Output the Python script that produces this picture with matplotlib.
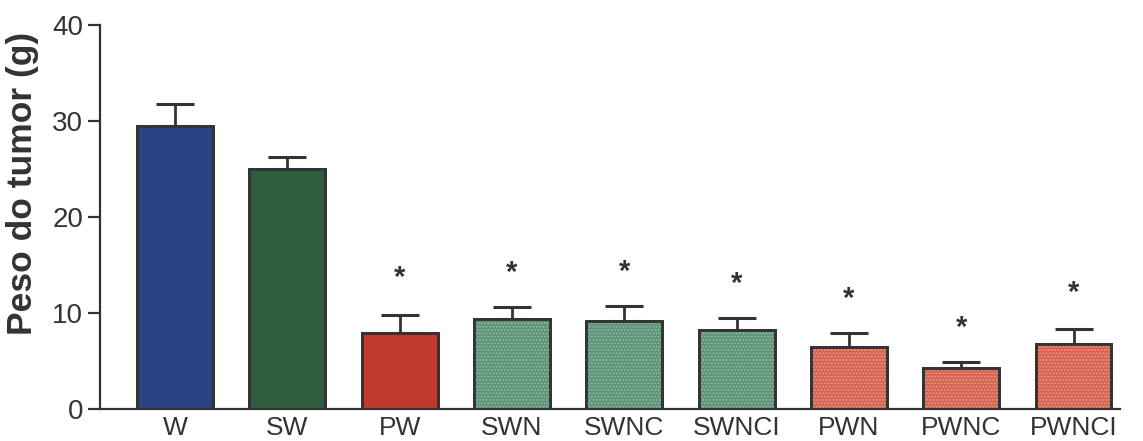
import matplotlib
matplotlib.use('Agg')
from matplotlib import pyplot as plt
import numpy as np

plt.rcParams['font.family'] = ['Liberation Sans', 'DejaVu Sans']

groups = ['W', 'SW', 'PW', 'SWN', 'SWNC', 'SWNCI', 'PWN', 'PWNC', 'PWNCI']
means = [29.5, 25.0, 7.9, 9.4, 9.2, 8.2, 6.5, 4.3, 6.8]
errors = [2.3, 1.25, 1.9, 1.2, 1.5, 1.3, 1.4, 0.6, 1.5]
star_y = [None, None, 13.6, 14.2, 14.3, 13.0, 11.5, 8.4, 12.1]
colors = ['#2a4387', '#2e5e3e', '#c0392e', '#5a9275', '#5a9275',
          '#5a9275', '#d8604f', '#d8604f', '#d8604f']
stippled = [False, False, False, True, True, True, True, True, True]

ink = '#333333'
fig = plt.figure(figsize=(11.43, 4.41), dpi=100)
ax = fig.add_axes([0.0875, 0.0726, 0.892, 0.871])

x = np.arange(len(groups))
width = 0.676
ax.bar(x, means, width, color=colors, edgecolor=ink, linewidth=2, zorder=2)
for xi, m, s in zip(x, means, stippled):
    if s:
        ax.bar(xi, m, width, color='none', edgecolor='#ffffff55', hatch='.....',
               linewidth=0, zorder=3)
ax.bar(x, means, width, color='none', edgecolor=ink, linewidth=2, zorder=4)
ax.errorbar(x, means, yerr=[np.zeros(len(means)), errors], fmt='none',
            ecolor=ink, elinewidth=2, capsize=14, capthick=2.2, zorder=1)

for xi, sy in zip(x, star_y):
    if sy is not None:
        ax.text(xi, sy, '*', ha='center', va='center', fontsize=21,
                fontweight='bold', color=ink)

ax.set_xlim(-0.667, 8.41)
ax.set_ylim(0, 40)
ax.set_yticks([0, 10, 20, 30, 40])
ax.set_xticks(x)
ax.set_xticklabels(groups)
ax.tick_params(axis='x', length=0, labelsize=19, colors=ink, pad=5)
ax.tick_params(axis='y', direction='out', length=9, width=1.6, labelsize=20,
               colors=ink, pad=3)
ax.set_ylabel('Peso do tumor (g)', fontsize=25.5, fontweight='bold', color=ink)
ax.yaxis.set_label_coords(-0.06, 0.586)
for side in ['top', 'right']:
    ax.spines[side].set_visible(False)
for side in ['left', 'bottom']:
    ax.spines[side].set_color(ink)
    ax.spines[side].set_linewidth(1.6)

plt.savefig('out.png', dpi=100)
